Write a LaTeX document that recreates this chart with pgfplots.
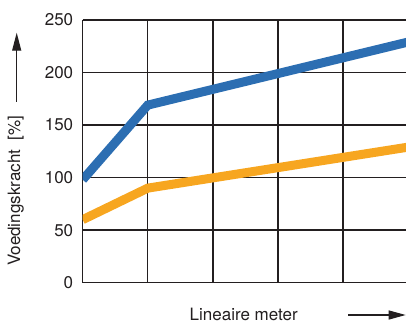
\documentclass[border=0pt]{standalone}
\usepackage{fontspec}
\setmainfont{TeX Gyre Heros}
\usepackage{pgfplots}
\pgfplotsset{compat=1.18}
\usetikzlibrary{arrows.meta}
\definecolor{cblue}{RGB}{44,110,178}
\definecolor{corange}{RGB}{247,166,32}
\definecolor{cink}{RGB}{35,31,32}
\begin{document}
\begin{tikzpicture}[x=1pt,y=1pt]
\path[use as bounding box] (-82.7,-42.3) rectangle (323.3,282.7);
\begin{axis}[
  at={(0pt,0pt)}, anchor=origin,
  scale only axis, width=323.3pt, height=262.7pt,
  xmin=0, xmax=4.97, ymin=0, ymax=250,
  axis lines=left, axis line style={-, cink, line width=1.4pt},
  xtick={0,1,2,3,4}, xticklabels={},
  ytick={0,50,100,150,200,250},
  major tick length=0pt,
  grid=major, grid style={cink, line width=1.4pt},
  /pgf/number format/assume math mode=true,
  yticklabel style={font=\fontsize{17}{20}\selectfont, text=cink, xshift=-6pt},
  clip=true,
]
\addplot[cblue, line width=9pt, line join=miter] coordinates {(0,98) (1,169) (5,229)};
\addplot[corange, line width=9pt, line join=miter] coordinates {(0,60) (1,90) (5,129)};
\end{axis}
\node[rotate=90, font=\fontsize{17}{20}\selectfont, text=cink] at (-67,92) {Voedingskracht\ \ [\%]};
\draw[cink, line width=1.2pt, -{Triangle[length=18pt,width=9pt]}] (-66,181) -- (-66,250);
\node[font=\fontsize{17}{20}\selectfont, text=cink] at (161,-32) {Lineaire meter};
\draw[cink, line width=1.2pt, -{Triangle[length=17pt,width=9pt]}] (265.3,-32.3) -- (323,-32.3);
\end{tikzpicture}
\end{document}
